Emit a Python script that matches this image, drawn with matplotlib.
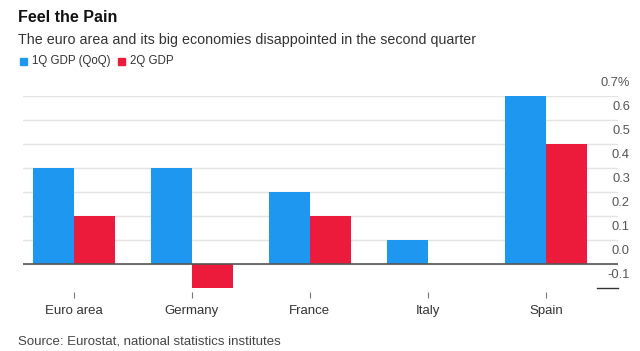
import matplotlib
matplotlib.use("Agg")
import matplotlib.pyplot as plt
import matplotlib.transforms as mtransforms

plt.rcParams['font.family'] = ['Liberation Sans', 'DejaVu Sans']

# data
countries = ["Euro area", "Germany", "France", "Italy", "Spain"]
q1_gdp = [0.4, 0.4, 0.3, 0.1, 0.7]
q2_gdp = [0.2, -0.1, 0.2, 0.0, 0.5]
y_ticks = [-0.1, 0.0, 0.1, 0.2, 0.3, 0.4, 0.5, 0.6, 0.7]
y_labels = ["-0.1", "0.0", "0.1", "0.2", "0.3", "0.4", "0.5", "0.6", "0.7%"]

blue = "#1d97f0"
red = "#ec1b3b"

W, H = 640, 351
fig = plt.figure(figsize=(6.4, 3.51), dpi=100)
ax = fig.add_axes([23 / W, 1 - 288 / H, 595 / W, 192 / H])

x = list(range(len(countries)))
bw = 0.347
ax.bar([i - bw / 2 for i in x], q1_gdp, width=bw, color=blue, zorder=3)
ax.bar([i + bw / 2 for i in x], q2_gdp, width=bw, color=red, zorder=3)

ax.set_xlim(-0.43, 4.61)
ax.set_ylim(-0.1, 0.7)

# gridlines (labels sit above the lines)
for t in y_ticks[1:]:
    ax.axhline(t, color="#e3e3e3", lw=1, zorder=1)
ax.axhline(0, color="#555555", lw=1.2, zorder=4)
ax.plot([0.965, 1.0], [-0.1, -0.1], transform=ax.get_yaxis_transform(),
        color="#333333", lw=1, clip_on=False)

lab_tr = mtransforms.offset_copy(ax.get_yaxis_transform(), fig=fig, x=0, y=9, units="points")
for t, s in zip(y_ticks, y_labels):
    ax.text(1.02, t, s, transform=lab_tr, ha="right", va="center",
            fontsize=9.3, color="#555555")

for sp in ax.spines.values():
    sp.set_visible(False)
ax.spines['bottom'].set_position(('outward', 3))
ax.set_yticks([])
ax.set_xticks(x)
ax.set_xticklabels(countries, fontsize=9.5, color="#333333")
ax.tick_params(axis="x", length=4, width=0.8, color="#777777", pad=5)

fig.text(18 / W, 1 - 17 / H, "Feel the Pain", fontsize=11.5, fontweight="bold",
         color="#111111", va="center", ha="left")
fig.text(18 / W, 1 - 40 / H, "The euro area and its big economies disappointed in the second quarter",
         fontsize=10.3, color="#333333", va="center", ha="left")

# legend
fig.patches.append(plt.Rectangle((20 / W, 1 - 65 / H), 7 / W, 7 / H, color=blue,
                                 transform=fig.transFigure, figure=fig))
fig.text(32 / W, 1 - 61 / H, "1Q GDP (QoQ)", fontsize=8.3, color="#333333", va="center")
fig.patches.append(plt.Rectangle((118 / W, 1 - 65 / H), 7 / W, 7 / H, color=red,
                                 transform=fig.transFigure, figure=fig))
fig.text(130 / W, 1 - 61 / H, "2Q GDP", fontsize=8.3, color="#333333", va="center")

fig.text(18 / W, 1 - 342 / H, "Source: Eurostat, national statistics institutes",
         fontsize=9.5, color="#444444", va="center")

fig.savefig("out.png", dpi=100)
